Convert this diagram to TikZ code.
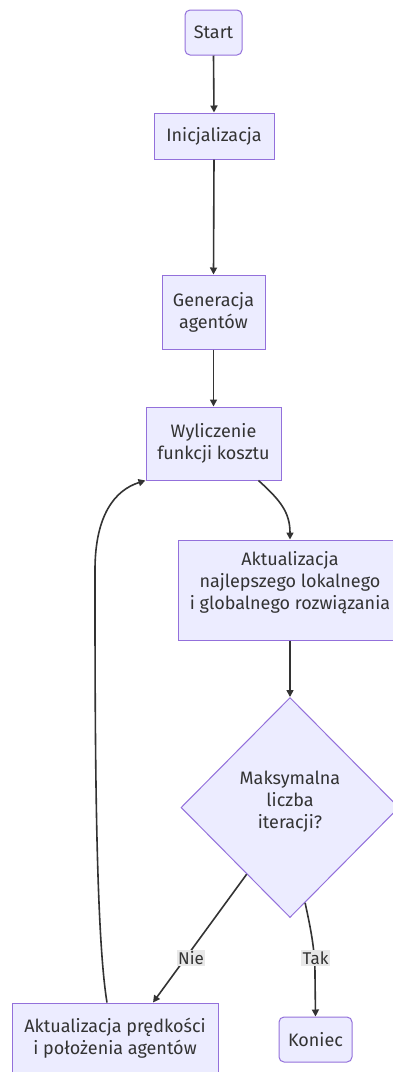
\documentclass[tikz,border=0pt]{standalone}
\usepackage{fontspec}
\setmainfont{Fira Sans}
\usetikzlibrary{shapes.geometric,arrows.meta}
\definecolor{boxfill}{HTML}{ECECFF}
\definecolor{boxline}{HTML}{9370DB}
\definecolor{ink}{HTML}{333333}
\definecolor{lblbg}{HTML}{E8E8E8}
% centred lines, lifted inside their shape without changing its size
\newcommand{\liftedtext}[2]{\raisebox{#1}[\height][\depth]{\begin{tabular}{@{}c@{}}#2\end{tabular}}}
\tikzset{
  base/.style={draw=boxline, fill=boxfill, line width=1pt, text=ink,
    font=\fontsize{18}{22}\selectfont, align=center, inner sep=0pt},
  procbox/.style={base, rectangle},
  termbox/.style={base, rectangle, rounded corners=5pt},
  decbox/.style={base, diamond, aspect=1},
  flow/.style={draw=ink, line width=1.6pt, -{Triangle[length=7pt,width=7pt]}},
  lbl/.style={fill=lblbg, text=ink, font=\fontsize{17}{20}\selectfont, inner sep=1.5pt}
}
\begin{document}
\begin{tikzpicture}[x=1pt, y=-1pt]
\useasboundingbox (0,0) rectangle (393,1072);
\clip (0,0) rectangle (393,1072);

\node[termbox, minimum width=57pt, minimum height=45pt] (start) at (213.5,32.5) {Start};
\node[procbox, minimum width=120pt, minimum height=46pt] (init) at (214,136) {Inicjalizacja};
\node[procbox, minimum width=103pt, minimum height=74pt] (gen) at (213.5,312) {Generacja\\agentów};
\node[procbox, minimum width=135pt, minimum height=73pt] (cost) at (213.5,443.5) {Wyliczenie\\funkcji kosztu};
\node[procbox, minimum width=224pt, minimum height=100pt] (best) at (290,590)
  {\liftedtext{7pt}{Aktualizacja\\najlepszego lokalnego\\i globalnego rozwiązania}};
\node[decbox, minimum width=218pt, minimum height=220pt] (maxit) at (290,807.5)
  {\liftedtext{5pt}{Maksymalna\\liczba\\iteracji?}};
\node[procbox, minimum width=206pt, minimum height=70pt] (move) at (115,1038) {Aktualizacja prędkości\\i położenia agentów};
\node[termbox, minimum width=73pt, minimum height=45pt] (stop) at (315.5,1039.5) {Koniec};

\draw[flow] (start.south) -- (init.north);
\draw[flow] (init.south) -- (gen.north);
\draw[flow] (gen.south) -- (cost.north);
\draw[flow] ([xshift=-23pt]cost.south east) .. controls (280,500) and (290,512) .. (best.north);
\draw[flow] (best.south) -- (maxit.north);
\draw[flow] (maxit.237) -- ([xshift=38pt]move.north);
\draw[flow] (maxit.279) .. controls (311,930) and (315,950) .. (315,975) -- (stop.north);
\draw[flow] ([xshift=-8pt]move.north) .. controls (95,930) and (95,720) .. (95,570)
  .. controls (95,515) and (115,490) .. (cost.south west);

\node[lbl] (no) at (191,958) {Nie};
\node[lbl] (yes) at (315.5,958) {Tak};
\end{tikzpicture}
\end{document}
